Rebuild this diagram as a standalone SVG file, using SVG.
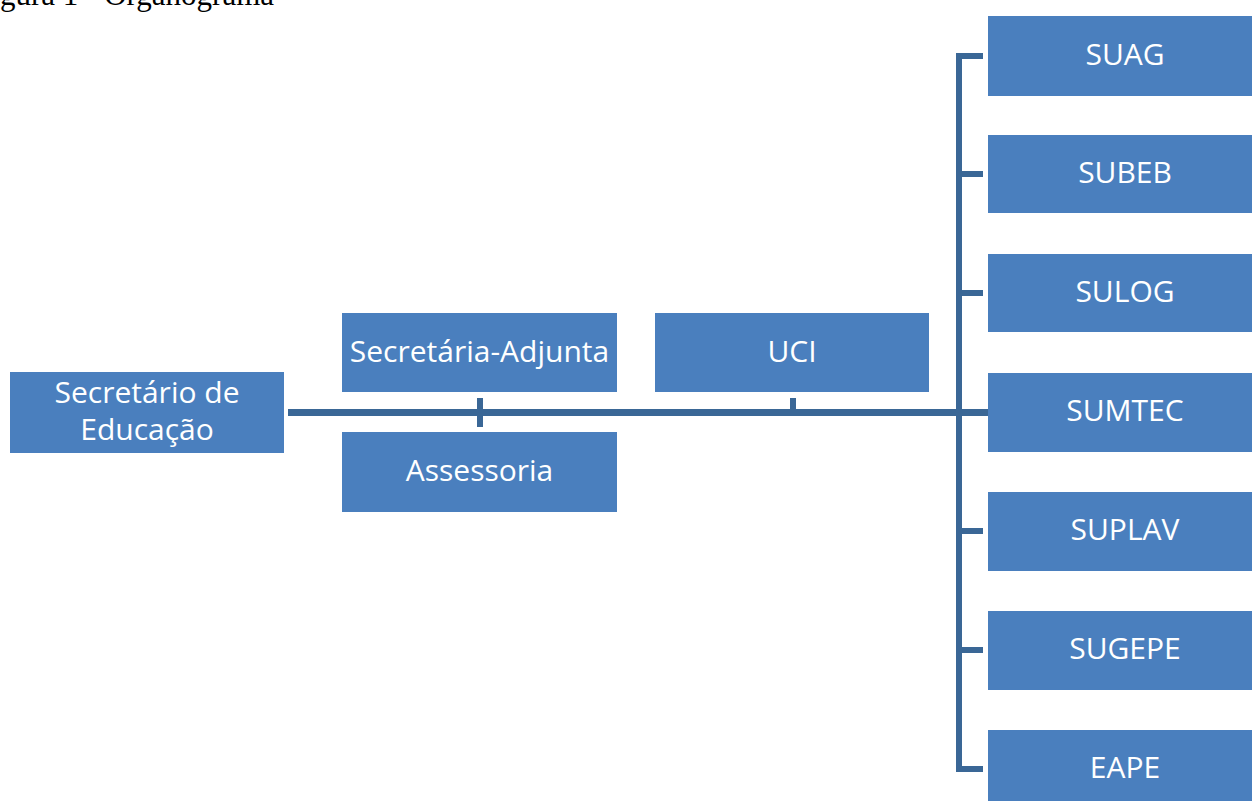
<svg xmlns="http://www.w3.org/2000/svg" width="1252" height="801" viewBox="0 0 1252 801">
<style>
.box{fill:#4A7FBE;}
.lbl{font-family:"Open Sans","Noto Sans",sans-serif;font-size:30px;fill:#FFFFFF;text-anchor:middle;}
.ln{stroke:#3A6796;fill:none;stroke-linecap:butt;}
.title{font-family:"Liberation Serif","Times New Roman",serif;font-size:31px;fill:#000000;}
</style>
<rect width="1252" height="801" fill="#FFFFFF"/>
<text class="title" x="0" y="5">gura 1 - Organograma</text>
<g id="connectors">
<line class="ln" x1="288" y1="412.5" x2="988" y2="412.5" stroke-width="7"/>
<line class="ln" x1="480" y1="398" x2="480" y2="427" stroke-width="6"/>
<line class="ln" x1="793" y1="398" x2="793" y2="412" stroke-width="6"/>
<line class="ln" x1="959" y1="53" x2="959" y2="772" stroke-width="6"/>
<line class="ln" x1="956" y1="56" x2="983" y2="56" stroke-width="6"/>
<line class="ln" x1="956" y1="174" x2="983" y2="174" stroke-width="6"/>
<line class="ln" x1="956" y1="293" x2="983" y2="293" stroke-width="6"/>
<line class="ln" x1="956" y1="531" x2="983" y2="531" stroke-width="6"/>
<line class="ln" x1="956" y1="650" x2="983" y2="650" stroke-width="6"/>
<line class="ln" x1="956" y1="769" x2="983" y2="769" stroke-width="6"/>
</g>
<g id="secretario">
<rect class="box" x="10" y="372" width="274" height="81"/>
<text class="lbl" x="147" y="403">Secretário de</text>
<text class="lbl" x="147" y="440">Educação</text>
</g>
<g id="secretaria-adjunta">
<rect class="box" x="342" y="313" width="275" height="79"/>
<text class="lbl" x="479.5" y="361.5">Secretária-Adjunta</text>
</g>
<g id="uci">
<rect class="box" x="655" y="313" width="274" height="79"/>
<text class="lbl" x="792" y="361.5">UCI</text>
</g>
<g id="assessoria">
<rect class="box" x="342" y="432" width="275" height="80"/>
<text class="lbl" x="479.5" y="481">Assessoria</text>
</g>
<g id="suag">
<rect class="box" x="988" y="16" width="274" height="80"/>
<text class="lbl" x="1125" y="65">SUAG</text>
</g>
<g id="subeb">
<rect class="box" x="988" y="135" width="274" height="78"/>
<text class="lbl" x="1125" y="183">SUBEB</text>
</g>
<g id="sulog">
<rect class="box" x="988" y="254" width="274" height="78"/>
<text class="lbl" x="1125" y="302">SULOG</text>
</g>
<g id="sumtec">
<rect class="box" x="988" y="373" width="274" height="79"/>
<text class="lbl" x="1125" y="421">SUMTEC</text>
</g>
<g id="suplav">
<rect class="box" x="988" y="492" width="274" height="79"/>
<text class="lbl" x="1125" y="540">SUPLAV</text>
</g>
<g id="sugepe">
<rect class="box" x="988" y="611" width="274" height="79"/>
<text class="lbl" x="1125" y="659">SUGEPE</text>
</g>
<g id="eape">
<rect class="box" x="988" y="730" width="274" height="80"/>
<text class="lbl" x="1125" y="778">EAPE</text>
</g>
</svg>
